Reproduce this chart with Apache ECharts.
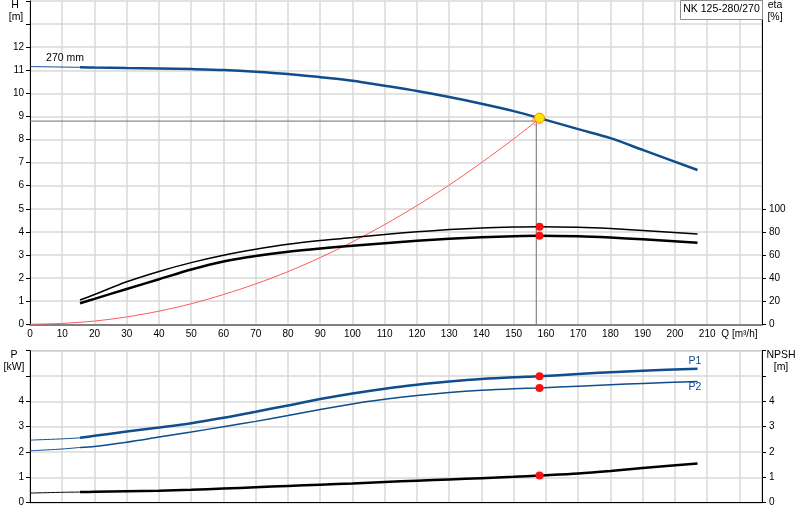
<!DOCTYPE html>
<html>
<head>
<meta charset="utf-8">
<script src="https://cdn.jsdelivr.net/npm/echarts@6/dist/echarts.min.js"></script>
<style>
  html, body { margin: 0; padding: 0; background: #fff; }
  #chart { width: 800px; height: 520px; }
</style>
</head>
<body>
<div id="chart"></div>
<script>
// pump curve NK 125-280/270
const qMax = 227;
const qSplit = 15.5; // below this the curves are drawn thin

// Q-H, impeller 270 mm
const qHead = [0, 10, 15.5, 20, 30, 40, 50, 60, 70, 80, 90, 100, 110, 120, 130, 140, 150, 158, 170, 180, 190, 207];
const head = [11.16, 11.14, 11.13, 11.12, 11.1, 11.08, 11.05, 11.01, 10.94, 10.84, 10.7, 10.55, 10.33, 10.1, 9.84, 9.55, 9.23, 8.93, 8.45, 8.06, 7.55, 6.68];

// system curve
const qSys = [0, 10, 20, 30, 40, 50, 60, 70, 80, 90, 100, 110, 120, 130, 140, 150, 157];
const headSys = [0, 0.04, 0.14, 0.32, 0.57, 0.89, 1.29, 1.75, 2.28, 2.89, 3.57, 4.32, 5.14, 6.03, 7.0, 8.03, 8.8];

// efficiency [%]
const qEta = [15.5, 20, 30, 40, 50, 60, 70, 80, 90, 100, 110, 120, 130, 140, 150, 158, 170, 180, 190, 207];
const etaPump = [21.0, 25.8, 36.8, 45.8, 53.4, 59.8, 65.0, 69.3, 72.5, 75.1, 77.8, 80.1, 82.0, 83.4, 84.2, 84.5, 84.0, 82.9, 81.3, 78.2];
const etaTotal = [18.2, 22.0, 30.6, 39.0, 47.4, 54.4, 59.2, 62.9, 65.7, 68.0, 70.2, 72.3, 74.0, 75.4, 76.3, 76.7, 76.2, 75.1, 73.6, 70.6];

// power [kW] and NPSH [m]
const qPow = [0, 10, 15.5, 20, 30, 40, 50, 60, 70, 80, 90, 100, 110, 120, 130, 140, 150, 158, 170, 180, 190, 207];
const powerP1 = [2.47, 2.52, 2.56, 2.64, 2.81, 2.97, 3.14, 3.35, 3.59, 3.84, 4.09, 4.31, 4.50, 4.66, 4.78, 4.88, 4.95, 4.99, 5.08, 5.15, 5.21, 5.29];
const powerP2 = [2.05, 2.12, 2.18, 2.22, 2.39, 2.59, 2.79, 3.0, 3.21, 3.44, 3.68, 3.90, 4.08, 4.23, 4.35, 4.44, 4.50, 4.53, 4.60, 4.66, 4.71, 4.78];
const npsh = [0.38, 0.41, 0.42, 0.43, 0.45, 0.47, 0.51, 0.56, 0.61, 0.66, 0.71, 0.76, 0.82, 0.87, 0.92, 0.97, 1.02, 1.07, 1.15, 1.25, 1.37, 1.55];

// duty point
const dutyQ = 157, dutyH = 8.8;
const opQ = 158, opH = 8.93;
const opEta = [84.5, 76.7];
const opPow = [4.99, 4.53];
const opNpsh = 1.07;

const blue = '#0f4d8c';
const gridCol = '#d8d8d8';
const font = 'Liberation Sans, Arial, sans-serif';

function pairs(xs, ys) {
    return xs.map(function (q, i) { return [q, ys[i]]; });
}
function lower(xs, ys) {
    return pairs(xs, ys).filter(function (p) { return p[0] <= qSplit; });
}
function upper(xs, ys) {
    return pairs(xs, ys).filter(function (p) { return p[0] >= qSplit; });
}
function line(name, x, y, data, color, width) {
    return {
        name: name, type: 'line', xAxisIndex: x, yAxisIndex: y, data: data,
        smooth: 0.3, showSymbol: false, silent: true,
        lineStyle: { color: color, width: width }
    };
}
function dots(x, y, data, size, fill, border) {
    return {
        type: 'scatter', xAxisIndex: x, yAxisIndex: y, data: data, symbolSize: size, z: 5, silent: true,
        itemStyle: { color: fill, borderColor: border || fill, borderWidth: border ? 1 : 0, opacity: 1 }
    };
}

const tickLabel = { color: '#000', fontSize: 10, fontFamily: font };
const blackLine = { show: true, onZero: false, lineStyle: { color: '#000', width: 1 } };

var chart = echarts.init(document.getElementById('chart'), null, { renderer: 'canvas' });

var option = {
    animation: false,
    grid: [
        { left: 30, right: 38, top: 1, bottom: 195.7 },
        { left: 30, right: 38, top: 350.7, bottom: 17.3, show: true, borderColor: '#8c8c8c', borderWidth: 1 }
    ],
    xAxis: [
        {
            type: 'value', gridIndex: 0, min: 0, max: qMax, interval: 10,
            axisLine: { show: true, onZero: false, lineStyle: { color: '#808080', width: 2 } },
            axisTick: { show: false },
            axisLabel: Object.assign({}, tickLabel, {
                margin: 5, showMaxLabel: false,
                formatter: function (v) { return v === 220 ? 'Q [m³/h]' : (v > 220 ? '' : v); }
            }),
            splitLine: { show: true, lineStyle: { color: gridCol, width: 1.5 } }
        },
        {
            type: 'value', gridIndex: 1, min: 0, max: qMax, interval: 10,
            axisLine: blackLine, axisTick: { show: false }, axisLabel: { show: false },
            splitLine: { show: true, lineStyle: { color: gridCol, width: 1.5 } }
        }
    ],
    yAxis: [
        {
            type: 'value', gridIndex: 0, position: 'left', min: 0, max: 14, interval: 1,
            axisLine: blackLine,
            axisTick: { show: true, length: 4, lineStyle: { color: '#000' } },
            axisLabel: Object.assign({}, tickLabel, { margin: 6, formatter: function (v) { return v <= 12 ? v : ''; } }),
            splitLine: { show: true, lineStyle: { color: gridCol, width: 1.5 } }
        },
        {
            type: 'value', gridIndex: 0, position: 'right', min: 0, max: 280, interval: 20,
            axisLine: blackLine,
            axisTick: { show: true, length: 4, lineStyle: { color: '#000' }, customValues: [0, 20, 40, 60, 80, 100] },
            axisLabel: Object.assign({}, tickLabel, { margin: 7, customValues: [0, 20, 40, 60, 80, 100],
                formatter: function (v) { return v <= 100 ? v : ''; } }),
            splitLine: { show: false }
        },
        {
            type: 'value', gridIndex: 1, position: 'left', min: 0, max: 6, interval: 1,
            axisLine: blackLine,
            axisTick: { show: true, length: 4, lineStyle: { color: '#000' } },
            axisLabel: Object.assign({}, tickLabel, { margin: 6, formatter: function (v) { return v <= 4 ? v : ''; } }),
            splitLine: { show: true, lineStyle: { color: gridCol, width: 1.5 } }
        },
        {
            type: 'value', gridIndex: 1, position: 'right', min: 0, max: 6, interval: 1,
            axisLine: blackLine,
            axisTick: { show: true, length: 4, lineStyle: { color: '#000' } },
            axisLabel: Object.assign({}, tickLabel, { margin: 7, formatter: function (v) { return v <= 4 ? v : ''; } }),
            splitLine: { show: false }
        }
    ],
    series: [
        // system curve
        line('system', 0, 0, pairs(qSys, headSys), '#ff5a5a', 1),
        // duty lines
        {
            type: 'line', xAxisIndex: 0, yAxisIndex: 0, showSymbol: false, silent: true,
            data: [[0, dutyH], [dutyQ, dutyH], [dutyQ, 0]],
            lineStyle: { color: '#6e6e6e', width: 1 }
        },
        // head
        line('H thin', 0, 0, lower(qHead, head), blue, 1),
        line('H', 0, 0, upper(qHead, head), blue, 2.5),
        // efficiency
        line('eta', 0, 1, pairs(qEta, etaPump), '#000', 1.5),
        line('eta tot', 0, 1, pairs(qEta, etaTotal), '#000', 2.5),
        // power
        line('P1 thin', 1, 2, lower(qPow, powerP1), blue, 1),
        line('P1', 1, 2, upper(qPow, powerP1), blue, 2.5),
        line('P2 thin', 1, 2, lower(qPow, powerP2), blue, 1),
        line('P2', 1, 2, upper(qPow, powerP2), blue, 1.5),
        line('NPSH thin', 1, 3, lower(qPow, npsh), '#000', 1),
        line('NPSH', 1, 3, upper(qPow, npsh), '#000', 2.5),
        // points
        {
            type: 'scatter', xAxisIndex: 0, yAxisIndex: 0, data: [[dutyQ, dutyH]], symbol: 'circle', symbolSize: 8, z: 4,
            silent: true, itemStyle: { color: 'rgba(0,0,0,0)', borderColor: '#f06060', borderWidth: 1, borderType: 'dashed' }
        },
        dots(0, 0, [[opQ, opH]], 10, '#ffe600', '#f08a00'),
        dots(0, 1, opEta.map(function (e) { return [opQ, e]; }), 8, '#ff1010'),
        dots(1, 2, opPow.map(function (p) { return [opQ, p]; }), 8, '#ff1010'),
        dots(1, 3, [[opQ, opNpsh]], 8, '#ff1010')
    ],
    graphic: [
        { type: 'text', z: 100, x: 15, y: 5, style: { text: 'H', fill: '#000', font: '10.5px ' + font, textAlign: 'center', textVerticalAlign: 'middle' } },
        { type: 'text', z: 100, x: 16, y: 17, style: { text: '[m]', fill: '#000', font: '10.5px ' + font, textAlign: 'center', textVerticalAlign: 'middle' } },
        { type: 'text', z: 100, x: 775, y: 5, style: { text: 'eta', fill: '#000', font: '10.5px ' + font, textAlign: 'center', textVerticalAlign: 'middle' } },
        { type: 'text', z: 100, x: 775, y: 17, style: { text: '[%]', fill: '#000', font: '10.5px ' + font, textAlign: 'center', textVerticalAlign: 'middle' } },
        { type: 'rect', z: 99, shape: { x: 680.5, y: 0.5, width: 82, height: 19 }, style: { fill: '#fff', stroke: '#8c8c8c', lineWidth: 1 } },
        { type: 'text', z: 100, x: 721.5, y: 9.5, style: { text: 'NK 125-280/270', fill: '#000', font: '10.5px ' + font, textAlign: 'center', textVerticalAlign: 'middle' } },
        { type: 'text', z: 100, x: 65, y: 58, style: { text: '270 mm', fill: '#000', font: '10.5px ' + font, textAlign: 'center', textVerticalAlign: 'middle' } },
        { type: 'text', z: 100, x: 14, y: 355, style: { text: 'P', fill: '#000', font: '10.5px ' + font, textAlign: 'center', textVerticalAlign: 'middle' } },
        { type: 'text', z: 100, x: 14, y: 367, style: { text: '[kW]', fill: '#000', font: '10.5px ' + font, textAlign: 'center', textVerticalAlign: 'middle' } },
        { type: 'text', z: 100, x: 781, y: 355, style: { text: 'NPSH', fill: '#000', font: '10.5px ' + font, textAlign: 'center', textVerticalAlign: 'middle' } },
        { type: 'text', z: 100, x: 781, y: 367, style: { text: '[m]', fill: '#000', font: '10.5px ' + font, textAlign: 'center', textVerticalAlign: 'middle' } },
        { type: 'text', z: 100, x: 695, y: 361, style: { text: 'P1', fill: blue, font: '10.5px ' + font, textAlign: 'center', textVerticalAlign: 'middle' } },
        { type: 'text', z: 100, x: 695, y: 387, style: { text: 'P2', fill: blue, font: '10.5px ' + font, textAlign: 'center', textVerticalAlign: 'middle' } }
    ]
};
option && chart.setOption(option);
</script>
</body>
</html>
